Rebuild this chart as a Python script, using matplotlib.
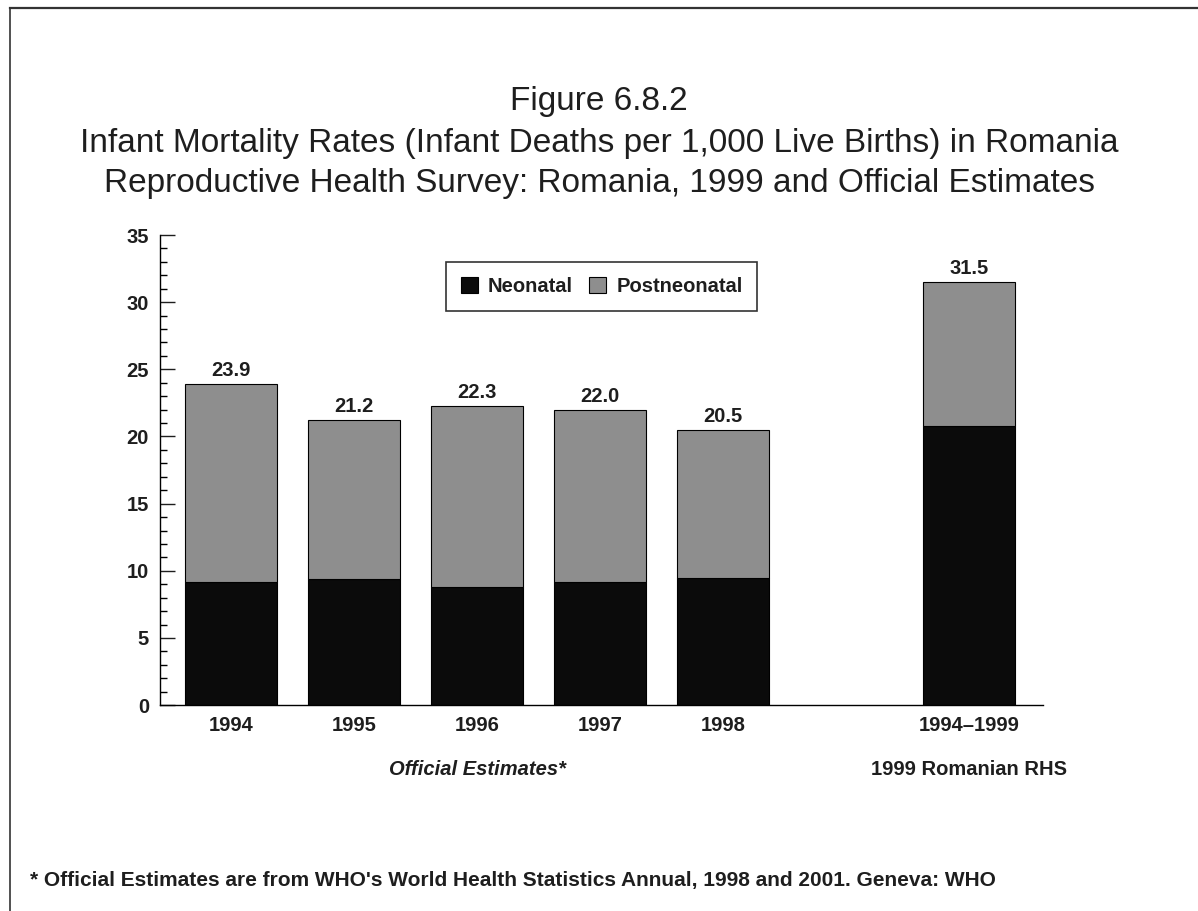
import numpy as np
import matplotlib.pyplot as plt
from matplotlib.lines import Line2D
from matplotlib.ticker import MultipleLocator

plt.rcParams['font.family'] = ['Liberation Sans', 'DejaVu Sans']

# infant mortality per 1,000 live births
categories = ['1994', '1995', '1996', '1997', '1998', '1994\u20131999']
totals = [23.9, 21.2, 22.3, 22.0, 20.5, 31.5]
neonatal = [9.2, 9.4, 8.8, 9.2, 9.5, 20.8]
postneonatal = [t - n for t, n in zip(totals, neonatal)]
xpos = np.array([0, 1, 2, 3, 4, 6])

txt = '#1e1e1e'
fs = 14.5

fig = plt.figure(figsize=(11.98, 9.11), dpi=100)
ax = fig.add_axes([0.1336, 0.226, 0.7370, 0.516])

ax.bar(xpos, neonatal, width=0.75, color='#0b0b0b', edgecolor='#000000',
       linewidth=0.8, label='Neonatal')
ax.bar(xpos, postneonatal, width=0.75, bottom=neonatal, color='#8e8e8e',
       edgecolor='#000000', linewidth=0.8, label='Postneonatal')

for x, t in zip(xpos, totals):
    ax.text(x, t + 0.3, '%.1f' % t, ha='center', va='bottom',
            fontsize=fs, fontweight='bold', color=txt)

ax.set_xlim(-0.58, 6.6)
ax.set_ylim(0, 35)
ax.yaxis.set_major_locator(MultipleLocator(5))
ax.yaxis.set_minor_locator(MultipleLocator(1))
ax.tick_params(axis='y', which='major', direction='in', length=11, width=1,
               labelsize=fs, colors=txt, pad=8)
ax.tick_params(axis='y', which='minor', direction='in', length=5, width=1)
for lbl in ax.get_yticklabels():
    lbl.set_fontweight('bold')
ax.set_xticks(xpos)
ax.set_xticklabels(categories, fontsize=fs, fontweight='bold', color=txt)
ax.tick_params(axis='x', length=0, pad=8)
ax.spines['top'].set_visible(False)
ax.spines['right'].set_visible(False)
ax.spines['left'].set_linewidth(1)
ax.spines['bottom'].set_linewidth(1)

leg = ax.legend(loc='upper center', bbox_to_anchor=(0.5, 0.965), ncol=2,
                frameon=True, fancybox=False, edgecolor='#000000',
                handlelength=0.85, handleheight=0.85, handletextpad=0.5,
                columnspacing=0.8, borderpad=0.75,
                prop={'size': fs, 'weight': 'bold'})
leg.get_frame().set_linewidth(1.2)
for t in leg.get_texts():
    t.set_color(txt)

# group captions under the year labels
ax.text(2, -4.8, 'Official Estimates*', ha='center', va='center',
        fontsize=fs, fontweight='bold', style='italic', color=txt)
ax.text(6, -4.8, '1999 Romanian RHS', ha='center', va='center',
        fontsize=fs, fontweight='bold', color=txt)

fig.text(0.5, 0.889, 'Figure 6.8.2', ha='center', va='center',
         fontsize=24, color=txt)
fig.text(0.5, 0.843,
         'Infant Mortality Rates (Infant Deaths per 1,000 Live Births) in Romania',
         ha='center', va='center', fontsize=24, color=txt)
fig.text(0.5, 0.799,
         'Reproductive Health Survey: Romania, 1999 and Official Estimates',
         ha='center', va='center', fontsize=24, color=txt)

fig.text(0.025, 0.034,
         "* Official Estimates are from WHO's World Health Statistics Annual, 1998 and 2001. Geneva: WHO",
         ha='left', va='center', fontsize=15, fontweight='bold', color=txt)

# page frame
fig.add_artist(Line2D([0.0085, 1.0], [0.991, 0.991], color='#333333', lw=1.6))
fig.add_artist(Line2D([0.0085, 0.0085], [0.0, 0.991], color='#333333', lw=1.2))

fig.savefig('out.png', dpi=100)
